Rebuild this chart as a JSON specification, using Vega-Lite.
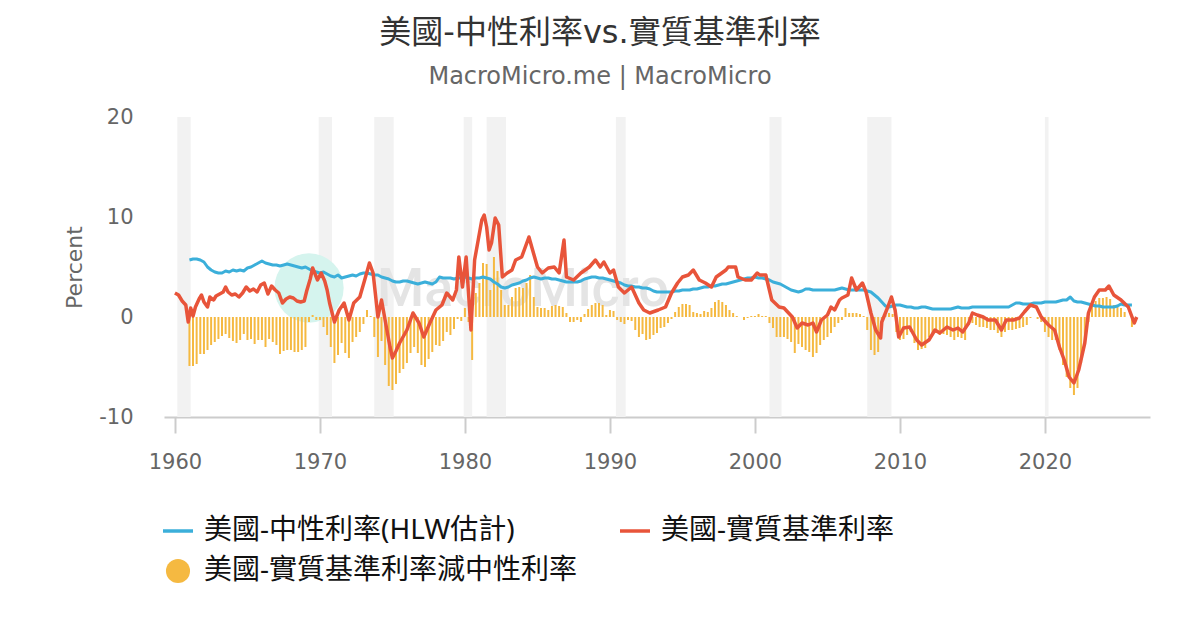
{
  "$schema": "https://vega.github.io/schema/vega-lite/v6.json",
  "width": 986,
  "height": 300,
  "autosize": "none",
  "padding": {"left": 164, "top": 117, "right": 50, "bottom": 213},
  "background": "white",
  "title": {
    "text": "美國-中性利率vs.實質基準利率",
    "subtitle": "MacroMicro.me | MacroMicro",
    "anchor": "middle",
    "dx": -57,
    "offset": 16,
    "font": "DejaVu Sans, Noto Sans CJK TC",
    "fontSize": 32,
    "fontWeight": "normal",
    "color": "#333333",
    "subtitleFont": "DejaVu Sans",
    "subtitleFontSize": 24,
    "subtitleColor": "#666666",
    "subtitlePadding": 15
  },
  "datasets": {
    "rec": [
      {"s": "1960-03", "e": "1961-02"},
      {"s": "1969-12", "e": "1970-11"},
      {"s": "1973-10", "e": "1975-02"},
      {"s": "1979-12", "e": "1980-07"},
      {"s": "1981-07", "e": "1982-11"},
      {"s": "1990-06", "e": "1991-02"},
      {"s": "2001-01", "e": "2001-11"},
      {"s": "2007-10", "e": "2009-06"},
      {"s": "2020-01", "e": "2020-04"}
    ],
    "q": [
      {"d": "1961-01", "n": 5.7, "g": -4.9}, {"d": "1961-04", "n": 5.8, "g": -4.9}, {"d": "1961-07", "n": 5.8, "g": -4.7}, {"d": "1961-10", "n": 5.7, "g": -3.7},
      {"d": "1962-01", "n": 5.5, "g": -3.7}, {"d": "1962-04", "n": 5.0, "g": -3.3}, {"d": "1962-07", "n": 4.7, "g": -2.8}, {"d": "1962-10", "n": 4.5, "g": -2.5},
      {"d": "1963-01", "n": 4.4, "g": -2.2}, {"d": "1963-04", "n": 4.4, "g": -1.9}, {"d": "1963-07", "n": 4.6, "g": -1.7}, {"d": "1963-10", "n": 4.5, "g": -2.1},
      {"d": "1964-01", "n": 4.7, "g": -2.4}, {"d": "1964-04", "n": 4.6, "g": -2.6}, {"d": "1964-07", "n": 4.7, "g": -2.3}, {"d": "1964-10", "n": 4.6, "g": -1.7},
      {"d": "1965-01", "n": 4.9, "g": -2.3}, {"d": "1965-04", "n": 5.0, "g": -2.2}, {"d": "1965-07", "n": 5.2, "g": -2.7}, {"d": "1965-10", "n": 5.4, "g": -2.3},
      {"d": "1966-01", "n": 5.6, "g": -2.3}, {"d": "1966-04", "n": 5.4, "g": -3.0}, {"d": "1966-07", "n": 5.3, "g": -2.2}, {"d": "1966-10", "n": 5.2, "g": -2.5},
      {"d": "1967-01", "n": 5.2, "g": -2.8}, {"d": "1967-04", "n": 5.1, "g": -3.7}, {"d": "1967-07", "n": 5.2, "g": -3.4}, {"d": "1967-10", "n": 5.3, "g": -3.3},
      {"d": "1968-01", "n": 5.2, "g": -3.3}, {"d": "1968-04", "n": 5.1, "g": -3.5}, {"d": "1968-07", "n": 5.0, "g": -3.5}, {"d": "1968-10", "n": 4.9, "g": -3.3},
      {"d": "1969-01", "n": 5.0, "g": -3.0}, {"d": "1969-04", "n": 4.8, "g": -0.5}, {"d": "1969-07", "n": 4.6, "g": 0.2}, {"d": "1969-10", "n": 4.5, "g": -0.3},
      {"d": "1970-01", "n": 4.4, "g": -0.3}, {"d": "1970-04", "n": 4.5, "g": -1.0}, {"d": "1970-07", "n": 4.3, "g": -1.8}, {"d": "1970-10", "n": 4.1, "g": -3.0},
      {"d": "1971-01", "n": 4.0, "g": -4.6}, {"d": "1971-04", "n": 4.2, "g": -3.8}, {"d": "1971-07", "n": 3.9, "g": -2.6}, {"d": "1971-10", "n": 4.0, "g": -3.6},
      {"d": "1972-01", "n": 4.1, "g": -4.1}, {"d": "1972-04", "n": 4.2, "g": -2.5}, {"d": "1972-07", "n": 4.1, "g": -2.0}, {"d": "1972-10", "n": 4.3, "g": -1.5},
      {"d": "1973-01", "n": 4.4, "g": -0.7}, {"d": "1973-04", "n": 4.4, "g": 0.7}, {"d": "1973-07", "n": 4.3, "g": 0.1}, {"d": "1973-10", "n": 4.2, "g": -2.0},
      {"d": "1974-01", "n": 4.2, "g": -4.0}, {"d": "1974-04", "n": 4.0, "g": -2.4}, {"d": "1974-07", "n": 3.9, "g": -4.8}, {"d": "1974-10", "n": 3.8, "g": -6.9},
      {"d": "1975-01", "n": 3.6, "g": -7.3}, {"d": "1975-04", "n": 3.5, "g": -6.7}, {"d": "1975-07", "n": 3.5, "g": -5.6}, {"d": "1975-10", "n": 3.6, "g": -5.2},
      {"d": "1976-01", "n": 3.6, "g": -4.6}, {"d": "1976-04", "n": 3.5, "g": -3.6}, {"d": "1976-07", "n": 3.4, "g": -3.0}, {"d": "1976-10", "n": 3.3, "g": -3.6},
      {"d": "1977-01", "n": 3.4, "g": -4.8}, {"d": "1977-04", "n": 3.5, "g": -5.0}, {"d": "1977-07", "n": 3.4, "g": -4.2}, {"d": "1977-10", "n": 3.3, "g": -3.5},
      {"d": "1978-01", "n": 3.5, "g": -2.8}, {"d": "1978-04", "n": 4.0, "g": -2.9}, {"d": "1978-07", "n": 3.9, "g": -2.4}, {"d": "1978-10", "n": 3.9, "g": -1.5},
      {"d": "1979-01", "n": 3.9, "g": -1.8}, {"d": "1979-04", "n": 3.8, "g": -1.2}, {"d": "1979-07", "n": 3.9, "g": -0.2}, {"d": "1979-10", "n": 3.9, "g": -0.4},
      {"d": "1980-01", "n": 4.0, "g": 0.9}, {"d": "1980-04", "n": 3.9, "g": -0.5}, {"d": "1980-07", "n": 3.8, "g": -4.3}, {"d": "1980-10", "n": 3.9, "g": 2.4},
      {"d": "1981-01", "n": 3.9, "g": 3.4}, {"d": "1981-04", "n": 4.0, "g": 5.4}, {"d": "1981-07", "n": 3.9, "g": 5.3}, {"d": "1981-10", "n": 3.8, "g": 2.7},
      {"d": "1982-01", "n": 3.5, "g": 6.0}, {"d": "1982-04", "n": 3.3, "g": 4.6}, {"d": "1982-07", "n": 3.0, "g": 2.7}, {"d": "1982-10", "n": 2.9, "g": 1.2},
      {"d": "1983-01", "n": 3.0, "g": 1.2}, {"d": "1983-04", "n": 3.2, "g": 2.0}, {"d": "1983-07", "n": 3.3, "g": 2.9}, {"d": "1983-10", "n": 3.4, "g": 3.0},
      {"d": "1984-01", "n": 3.6, "g": 2.9}, {"d": "1984-04", "n": 3.7, "g": 3.4}, {"d": "1984-07", "n": 3.9, "g": 4.2}, {"d": "1984-10", "n": 4.0, "g": 2.0},
      {"d": "1985-01", "n": 3.9, "g": 1.0}, {"d": "1985-04", "n": 3.8, "g": 0.9}, {"d": "1985-07", "n": 3.9, "g": 0.9}, {"d": "1985-10", "n": 3.9, "g": 0.7},
      {"d": "1986-01", "n": 3.8, "g": 1.1}, {"d": "1986-04", "n": 3.8, "g": 1.2}, {"d": "1986-07", "n": 3.7, "g": 1.1}, {"d": "1986-10", "n": 3.6, "g": 1.0},
      {"d": "1987-01", "n": 3.5, "g": 0.4}, {"d": "1987-04", "n": 3.5, "g": -0.5}, {"d": "1987-07", "n": 3.5, "g": -0.5}, {"d": "1987-10", "n": 3.5, "g": -0.3},
      {"d": "1988-01", "n": 3.6, "g": -0.5}, {"d": "1988-04", "n": 3.8, "g": 0.3}, {"d": "1988-07", "n": 3.9, "g": 0.8}, {"d": "1988-10", "n": 4.0, "g": 1.2},
      {"d": "1989-01", "n": 4.0, "g": 1.4}, {"d": "1989-04", "n": 3.9, "g": 1.4}, {"d": "1989-07", "n": 3.9, "g": 1.2}, {"d": "1989-10", "n": 3.8, "g": 0.2},
      {"d": "1990-01", "n": 3.7, "g": 0.7}, {"d": "1990-04", "n": 3.6, "g": 0.6}, {"d": "1990-07", "n": 3.5, "g": -0.3}, {"d": "1990-10", "n": 3.4, "g": -0.5},
      {"d": "1991-01", "n": 3.2, "g": -0.7}, {"d": "1991-04", "n": 3.1, "g": -0.3}, {"d": "1991-07", "n": 3.1, "g": -0.4}, {"d": "1991-10", "n": 3.0, "g": -1.3},
      {"d": "1992-01", "n": 3.0, "g": -2.0}, {"d": "1992-04", "n": 2.9, "g": -1.7}, {"d": "1992-07", "n": 2.9, "g": -2.3}, {"d": "1992-10", "n": 2.8, "g": -2.2},
      {"d": "1993-01", "n": 2.6, "g": -1.8}, {"d": "1993-04", "n": 2.5, "g": -1.6}, {"d": "1993-07", "n": 2.5, "g": -1.1}, {"d": "1993-10", "n": 2.5, "g": -1.0},
      {"d": "1994-01", "n": 2.5, "g": -0.6}, {"d": "1994-04", "n": 2.5, "g": -0.2}, {"d": "1994-07", "n": 2.6, "g": 0.5}, {"d": "1994-10", "n": 2.6, "g": 1.0},
      {"d": "1995-01", "n": 2.7, "g": 1.3}, {"d": "1995-04", "n": 2.7, "g": 1.3}, {"d": "1995-07", "n": 2.7, "g": 1.2}, {"d": "1995-10", "n": 2.8, "g": 0.5},
      {"d": "1996-01", "n": 2.8, "g": 0.4}, {"d": "1996-04", "n": 2.9, "g": 0.3}, {"d": "1996-07", "n": 3.0, "g": 0.6}, {"d": "1996-10", "n": 3.0, "g": 0.5},
      {"d": "1997-01", "n": 3.1, "g": 0.9}, {"d": "1997-04", "n": 3.1, "g": 1.5}, {"d": "1997-07", "n": 3.2, "g": 1.7}, {"d": "1997-10", "n": 3.3, "g": 1.5},
      {"d": "1998-01", "n": 3.3, "g": 1.2}, {"d": "1998-04", "n": 3.4, "g": 0.7}, {"d": "1998-07", "n": 3.5, "g": 0.4}, {"d": "1998-10", "n": 3.6, "g": 0.1},
      {"d": "1999-01", "n": 3.7, "g": 0.0}, {"d": "1999-04", "n": 3.8, "g": -0.3}, {"d": "1999-07", "n": 3.9, "g": -0.1}, {"d": "1999-10", "n": 3.9, "g": 0.1},
      {"d": "2000-01", "n": 4.0, "g": 0.1}, {"d": "2000-04", "n": 3.9, "g": 0.3}, {"d": "2000-07", "n": 3.9, "g": 0.1}, {"d": "2000-10", "n": 3.8, "g": 0.1},
      {"d": "2001-01", "n": 3.7, "g": -0.6}, {"d": "2001-04", "n": 3.5, "g": -1.1}, {"d": "2001-07", "n": 3.4, "g": -2.0}, {"d": "2001-10", "n": 3.3, "g": -2.0},
      {"d": "2002-01", "n": 3.1, "g": -2.0}, {"d": "2002-04", "n": 2.9, "g": -2.2}, {"d": "2002-07", "n": 2.7, "g": -2.5}, {"d": "2002-10", "n": 2.6, "g": -3.6},
      {"d": "2003-01", "n": 2.5, "g": -2.7}, {"d": "2003-04", "n": 2.6, "g": -3.0}, {"d": "2003-07", "n": 2.8, "g": -3.3}, {"d": "2003-10", "n": 2.8, "g": -3.5},
      {"d": "2004-01", "n": 2.7, "g": -4.0}, {"d": "2004-04", "n": 2.7, "g": -3.6}, {"d": "2004-07", "n": 2.7, "g": -2.8}, {"d": "2004-10", "n": 2.7, "g": -2.3},
      {"d": "2005-01", "n": 2.7, "g": -2.0}, {"d": "2005-04", "n": 2.7, "g": -1.6}, {"d": "2005-07", "n": 2.7, "g": -1.0}, {"d": "2005-10", "n": 2.8, "g": -0.6},
      {"d": "2006-01", "n": 2.9, "g": -0.3}, {"d": "2006-04", "n": 2.8, "g": 0.9}, {"d": "2006-07", "n": 2.7, "g": 0.4}, {"d": "2006-10", "n": 2.7, "g": 0.4},
      {"d": "2007-01", "n": 2.7, "g": 0.4}, {"d": "2007-04", "n": 2.7, "g": 0.3}, {"d": "2007-07", "n": 2.7, "g": 0.1}, {"d": "2007-10", "n": 2.6, "g": -1.3},
      {"d": "2008-01", "n": 2.5, "g": -3.3}, {"d": "2008-04", "n": 2.2, "g": -3.8}, {"d": "2008-07", "n": 1.9, "g": -3.5}, {"d": "2008-10", "n": 1.5, "g": -1.0},
      {"d": "2009-01", "n": 1.1, "g": 0.2}, {"d": "2009-04", "n": 1.0, "g": 0.4}, {"d": "2009-07", "n": 1.1, "g": 0.3}, {"d": "2009-10", "n": 1.2, "g": -1.5},
      {"d": "2010-01", "n": 1.2, "g": -2.3}, {"d": "2010-04", "n": 1.1, "g": -2.2}, {"d": "2010-07", "n": 1.0, "g": -1.8}, {"d": "2010-10", "n": 1.0, "g": -1.5},
      {"d": "2011-01", "n": 0.9, "g": -2.6}, {"d": "2011-04", "n": 0.9, "g": -3.3}, {"d": "2011-07", "n": 1.0, "g": -3.2}, {"d": "2011-10", "n": 1.0, "g": -3.1},
      {"d": "2012-01", "n": 0.9, "g": -2.0}, {"d": "2012-04", "n": 0.8, "g": -1.7}, {"d": "2012-07", "n": 0.8, "g": -1.6}, {"d": "2012-10", "n": 0.8, "g": -1.8},
      {"d": "2013-01", "n": 0.8, "g": -1.7}, {"d": "2013-04", "n": 0.8, "g": -1.8}, {"d": "2013-07", "n": 0.8, "g": -2.0}, {"d": "2013-10", "n": 0.9, "g": -2.3},
      {"d": "2014-01", "n": 1.0, "g": -2.0}, {"d": "2014-04", "n": 0.9, "g": -2.1}, {"d": "2014-07", "n": 0.9, "g": -2.3}, {"d": "2014-10", "n": 0.9, "g": -0.8},
      {"d": "2015-01", "n": 1.0, "g": -0.6}, {"d": "2015-04", "n": 1.0, "g": -0.8}, {"d": "2015-07", "n": 1.0, "g": -1.0}, {"d": "2015-10", "n": 1.0, "g": -1.0},
      {"d": "2016-01", "n": 1.0, "g": -1.1}, {"d": "2016-04", "n": 1.0, "g": -1.3}, {"d": "2016-07", "n": 1.0, "g": -1.3}, {"d": "2016-10", "n": 1.0, "g": -1.6},
      {"d": "2017-01", "n": 1.0, "g": -2.0}, {"d": "2017-04", "n": 1.0, "g": -1.5}, {"d": "2017-07", "n": 1.0, "g": -1.3}, {"d": "2017-10", "n": 1.2, "g": -1.3},
      {"d": "2018-01", "n": 1.4, "g": -1.2}, {"d": "2018-04", "n": 1.4, "g": -1.1}, {"d": "2018-07", "n": 1.3, "g": -1.0}, {"d": "2018-10", "n": 1.3, "g": -0.8},
      {"d": "2019-01", "n": 1.3, "g": -0.1}, {"d": "2019-04", "n": 1.4, "g": 0.0}, {"d": "2019-07", "n": 1.4, "g": -0.2}, {"d": "2019-10", "n": 1.4, "g": -0.5},
      {"d": "2020-01", "n": 1.5, "g": -1.5}, {"d": "2020-04", "n": 1.5, "g": -2.0}, {"d": "2020-07", "n": 1.5, "g": -2.3}, {"d": "2020-10", "n": 1.5, "g": -2.3},
      {"d": "2021-01", "n": 1.6, "g": -3.3}, {"d": "2021-04", "n": 1.7, "g": -4.8}, {"d": "2021-07", "n": 1.7, "g": -6.0}, {"d": "2021-10", "n": 2.0, "g": -7.1},
      {"d": "2022-01", "n": 1.6, "g": -7.8}, {"d": "2022-04", "n": 1.5, "g": -7.1}, {"d": "2022-07", "n": 1.5, "g": -4.6}, {"d": "2022-10", "n": 1.4, "g": -2.6},
      {"d": "2023-01", "n": 1.3, "g": -0.5}, {"d": "2023-04", "n": 1.2, "g": 1.2}, {"d": "2023-07", "n": 1.1, "g": 1.6}, {"d": "2023-10", "n": 1.1, "g": 1.9},
      {"d": "2024-01", "n": 1.0, "g": 1.9}, {"d": "2024-04", "n": 1.0, "g": 2.0}, {"d": "2024-07", "n": 1.0, "g": 1.8}, {"d": "2024-10", "n": 1.0, "g": 1.2},
      {"d": "2025-01", "n": 1.1, "g": 1.0}, {"d": "2025-04", "n": 1.3, "g": 0.9}, {"d": "2025-07", "n": 1.2, "g": 0.5}, {"d": "2025-10", "n": 1.2, "g": 0.0},
      {"d": "2026-01", "n": 1.2, "g": -1.0}
    ],
    "real": [
      {"d": "1960-01", "r": 2.4}, {"d": "1960-04", "r": 2.2}, {"d": "1960-07", "r": 1.6}, {"d": "1960-10", "r": 1.2}, {"d": "1960-12", "r": -0.5},
      {"d": "1961-02", "r": 0.9}, {"d": "1961-04", "r": 0.1}, {"d": "1961-06", "r": 1.0}, {"d": "1961-09", "r": 1.8}, {"d": "1961-11", "r": 2.2},
      {"d": "1962-01", "r": 1.5}, {"d": "1962-04", "r": 1.0}, {"d": "1962-06", "r": 2.0}, {"d": "1962-09", "r": 1.7}, {"d": "1962-11", "r": 2.1},
      {"d": "1963-02", "r": 2.3}, {"d": "1963-05", "r": 2.5}, {"d": "1963-07", "r": 3.0}, {"d": "1963-09", "r": 2.5}, {"d": "1963-12", "r": 2.2},
      {"d": "1964-03", "r": 2.3}, {"d": "1964-06", "r": 2.0}, {"d": "1964-09", "r": 2.4}, {"d": "1964-12", "r": 3.0},
      {"d": "1965-03", "r": 2.6}, {"d": "1965-06", "r": 2.8}, {"d": "1965-09", "r": 2.5}, {"d": "1965-12", "r": 3.2},
      {"d": "1966-03", "r": 3.4}, {"d": "1966-06", "r": 2.3}, {"d": "1966-09", "r": 3.1}, {"d": "1966-12", "r": 2.7},
      {"d": "1967-03", "r": 2.4}, {"d": "1967-06", "r": 1.4}, {"d": "1967-09", "r": 1.8}, {"d": "1967-12", "r": 2.0},
      {"d": "1968-03", "r": 1.9}, {"d": "1968-06", "r": 1.6}, {"d": "1968-09", "r": 1.5}, {"d": "1968-12", "r": 1.6},
      {"d": "1969-02", "r": 2.6}, {"d": "1969-05", "r": 3.8}, {"d": "1969-07", "r": 4.9}, {"d": "1969-09", "r": 4.3}, {"d": "1969-11", "r": 3.7},
      {"d": "1970-02", "r": 4.4}, {"d": "1970-05", "r": 3.6}, {"d": "1970-07", "r": 2.7}, {"d": "1970-09", "r": 1.4},
      {"d": "1971-01", "r": -0.5}, {"d": "1971-05", "r": 0.7}, {"d": "1971-09", "r": 1.4},
      {"d": "1972-01", "r": -0.3}, {"d": "1972-05", "r": 1.4}, {"d": "1972-10", "r": 2.0},
      {"d": "1973-02", "r": 3.7}, {"d": "1973-06", "r": 5.4}, {"d": "1973-09", "r": 4.4},
      {"d": "1974-01", "r": 0.0}, {"d": "1974-04", "r": 1.7}, {"d": "1974-08", "r": -1.0}, {"d": "1974-11", "r": -3.0},
      {"d": "1975-01", "r": -4.1}, {"d": "1975-04", "r": -3.4}, {"d": "1975-07", "r": -2.6},
      {"d": "1976-01", "r": -1.3}, {"d": "1976-06", "r": 0.4}, {"d": "1976-11", "r": -0.6},
      {"d": "1977-03", "r": -2.0}, {"d": "1977-08", "r": -0.6},
      {"d": "1978-01", "r": 0.7}, {"d": "1978-06", "r": 1.2}, {"d": "1978-10", "r": 2.4},
      {"d": "1979-03", "r": 1.7}, {"d": "1979-06", "r": 2.7}, {"d": "1979-08", "r": 6.0}, {"d": "1979-11", "r": 3.0},
      {"d": "1980-02", "r": 6.0}, {"d": "1980-06", "r": -1.3}, {"d": "1980-09", "r": 5.7}, {"d": "1980-12", "r": 7.7},
      {"d": "1981-03", "r": 9.7}, {"d": "1981-05", "r": 10.2}, {"d": "1981-07", "r": 9.0}, {"d": "1981-09", "r": 6.7}, {"d": "1981-11", "r": 7.4},
      {"d": "1982-02", "r": 9.9}, {"d": "1982-05", "r": 9.2}, {"d": "1982-08", "r": 4.0}, {"d": "1982-12", "r": 4.4},
      {"d": "1983-04", "r": 4.7}, {"d": "1983-07", "r": 5.7}, {"d": "1983-12", "r": 6.0},
      {"d": "1984-06", "r": 8.0}, {"d": "1984-09", "r": 6.7},
      {"d": "1985-01", "r": 5.0}, {"d": "1985-05", "r": 4.4}, {"d": "1985-10", "r": 4.9},
      {"d": "1986-03", "r": 5.0}, {"d": "1986-07", "r": 4.4}, {"d": "1986-11", "r": 7.7},
      {"d": "1987-01", "r": 4.0}, {"d": "1987-07", "r": 3.7},
      {"d": "1988-01", "r": 4.4}, {"d": "1988-08", "r": 5.0},
      {"d": "1989-01", "r": 5.7}, {"d": "1989-05", "r": 5.0}, {"d": "1989-08", "r": 5.5},
      {"d": "1990-01", "r": 4.4}, {"d": "1990-04", "r": 4.7}, {"d": "1990-08", "r": 3.0},
      {"d": "1991-01", "r": 2.4}, {"d": "1991-07", "r": 3.0},
      {"d": "1992-01", "r": 1.4}, {"d": "1992-05", "r": 0.7}, {"d": "1992-10", "r": 0.4},
      {"d": "1993-05", "r": 0.7}, {"d": "1993-11", "r": 1.0},
      {"d": "1994-04", "r": 2.4}, {"d": "1994-09", "r": 3.4},
      {"d": "1995-01", "r": 4.0}, {"d": "1995-06", "r": 4.2}, {"d": "1995-10", "r": 4.7},
      {"d": "1996-03", "r": 3.7}, {"d": "1996-08", "r": 3.4},
      {"d": "1997-01", "r": 3.0}, {"d": "1997-05", "r": 4.0},
      {"d": "1998-01", "r": 4.7}, {"d": "1998-03", "r": 5.0}, {"d": "1998-09", "r": 5.0}, {"d": "1998-11", "r": 4.0},
      {"d": "1999-05", "r": 3.7}, {"d": "1999-10", "r": 3.7},
      {"d": "2000-03", "r": 4.4}, {"d": "2000-05", "r": 4.2}, {"d": "2000-10", "r": 4.2},
      {"d": "2001-03", "r": 1.7}, {"d": "2001-09", "r": 1.0},
      {"d": "2002-01", "r": 0.9}, {"d": "2002-08", "r": 0.0}, {"d": "2002-12", "r": -1.1},
      {"d": "2003-04", "r": -0.6}, {"d": "2003-09", "r": -0.8},
      {"d": "2004-01", "r": -0.6}, {"d": "2004-04", "r": -1.5}, {"d": "2004-08", "r": -0.3},
      {"d": "2005-01", "r": 0.2}, {"d": "2005-04", "r": 1.0}, {"d": "2005-07", "r": 0.7}, {"d": "2005-11", "r": 1.7},
      {"d": "2006-01", "r": 1.9}, {"d": "2006-06", "r": 2.2}, {"d": "2006-09", "r": 3.9},
      {"d": "2007-01", "r": 2.7}, {"d": "2007-06", "r": 3.4}, {"d": "2007-09", "r": 2.5},
      {"d": "2008-01", "r": 0.4}, {"d": "2008-05", "r": -1.3}, {"d": "2008-09", "r": -2.1}, {"d": "2008-10", "r": -0.5},
      {"d": "2009-03", "r": 1.0}, {"d": "2009-06", "r": 2.0}, {"d": "2009-09", "r": 0.7}, {"d": "2009-12", "r": -2.0},
      {"d": "2010-04", "r": -1.1}, {"d": "2010-09", "r": -1.0},
      {"d": "2011-03", "r": -2.3}, {"d": "2011-07", "r": -2.8},
      {"d": "2012-01", "r": -2.3}, {"d": "2012-06", "r": -1.3}, {"d": "2012-10", "r": -1.6},
      {"d": "2013-04", "r": -1.0}, {"d": "2013-09", "r": -1.3},
      {"d": "2014-01", "r": -1.1}, {"d": "2014-05", "r": -1.5}, {"d": "2014-10", "r": -0.6},
      {"d": "2015-01", "r": 0.4}, {"d": "2015-05", "r": 0.2}, {"d": "2015-10", "r": 0.0},
      {"d": "2016-02", "r": -0.3}, {"d": "2016-08", "r": -0.3},
      {"d": "2017-01", "r": -1.3}, {"d": "2017-05", "r": -0.3}, {"d": "2017-11", "r": -0.3},
      {"d": "2018-04", "r": -0.1}, {"d": "2018-08", "r": 0.5},
      {"d": "2019-01", "r": 1.2}, {"d": "2019-06", "r": 1.0}, {"d": "2019-10", "r": 0.0},
      {"d": "2020-04", "r": -0.8}, {"d": "2020-09", "r": -1.3},
      {"d": "2021-01", "r": -3.0}, {"d": "2021-05", "r": -4.3}, {"d": "2021-09", "r": -6.0},
      {"d": "2022-01", "r": -6.6}, {"d": "2022-05", "r": -5.3}, {"d": "2022-10", "r": -2.6},
      {"d": "2023-01", "r": 0.4}, {"d": "2023-06", "r": 2.0}, {"d": "2023-10", "r": 2.7},
      {"d": "2024-03", "r": 2.7}, {"d": "2024-06", "r": 3.1}, {"d": "2024-10", "r": 2.2},
      {"d": "2025-04", "r": 1.7}, {"d": "2025-10", "r": 1.0},
      {"d": "2026-03", "r": -0.6}, {"d": "2026-05", "r": 0.0}
    ]
  },
  "layer": [
    {
      "data": {"name": "rec"},
      "mark": {"type": "rect", "color": "#f2f2f2"},
      "encoding": {
        "x": {
          "field": "s", "type": "temporal", "title": null,
          "scale": {"domain": [{"year": 1959, "month": 4, "date": 1}, {"year": 2027, "month": 4, "date": 1}], "padding": 0},
          "axis": {
            "values": [{"year": 1960}, {"year": 1970}, {"year": 1980}, {"year": 1990}, {"year": 2000}, {"year": 2010}, {"year": 2020}],
            "format": "%Y", "grid": false,
            "domainColor": "#cccccc", "domainWidth": 2,
            "tickColor": "#cccccc", "tickWidth": 2, "tickSize": 16,
            "labelFont": "DejaVu Sans", "labelFontSize": 21, "labelColor": "#666666", "labelPadding": 18
          }
        },
        "x2": {"field": "e"},
        "y": {
          "datum": 20, "type": "quantitative", "title": "Percent",
          "scale": {"domain": [-10, 20], "nice": false, "padding": 0},
          "axis": {
            "values": [-10, 0, 10, 20], "labelExpr": "'' + datum.value", "domain": false, "ticks": false,
            "gridColor": "#e6e6e6", "gridWidth": 2,
            "labelFont": "DejaVu Sans", "labelFontSize": 21, "labelColor": "#666666", "labelPadding": 31,
            "titleFont": "DejaVu Sans", "titleFontSize": 22, "titleColor": "#666666", "titleFontWeight": "normal", "titlePadding": 12
          }
        },
        "y2": {"datum": -10}
      }
    },
    {
      "data": {"values": [{}]},
      "mark": {"type": "point", "filled": true, "color": "#d5f4ee", "opacity": 1, "size": 4800},
      "encoding": {
        "x": {"datum": {"year": 1969, "month": 4}, "type": "temporal", "title": null},
        "y": {"datum": 2.9, "type": "quantitative", "title": "Percent"}
      }
    },
    {
      "data": {"values": [{}]},
      "mark": {"type": "text", "text": "MacroMicro", "font": "Roboto", "fontSize": 54, "fontWeight": 500, "color": "#e4e4e4", "align": "center", "baseline": "middle"},
      "encoding": {
        "x": {"datum": {"year": 1984, "month": 1}, "type": "temporal", "title": null},
        "y": {"datum": 2.75, "type": "quantitative", "title": "Percent"}
      }
    },
    {
      "data": {"name": "q"},
      "mark": {"type": "bar", "width": 2},
      "encoding": {
        "x": {"field": "d", "type": "temporal", "title": null},
        "y": {"field": "g", "type": "quantitative", "title": "Percent"},
        "color": {
          "datum": "美國-實質基準利率減中性利率",
          "scale": {
            "domain": ["美國-中性利率(HLW估計)", "美國-實質基準利率減中性利率", "美國-實質基準利率"],
            "range": ["#3bafda", "#f5b941", "#e8543a"]
          },
          "legend": {
            "title": null, "orient": "none", "legendX": 0, "legendY": 400,
            "columns": 2, "columnPadding": 35, "rowPadding": 12,
            "symbolSize": 900, "labelOffset": 12, "labelLimit": 600,
            "labelFont": "Noto Sans, Noto Sans CJK TC", "labelFontSize": 28, "labelColor": "#111111",
            "encode": {
              "symbols": {
                "update": {
                  "shape": {"signal": "datum.value === '美國-實質基準利率減中性利率' ? 'circle' : 'stroke'"},
                  "size": {"signal": "datum.value === '美國-實質基準利率減中性利率' ? 580 : 900"},
                  "strokeWidth": {"signal": "datum.value === '美國-實質基準利率減中性利率' ? 0 : 3.5"},
                  "fill": {"signal": "datum.value === '美國-實質基準利率減中性利率' ? '#f5b941' : 'transparent'"},
                  "stroke": {"signal": "datum.value === '美國-中性利率(HLW估計)' ? '#3bafda' : '#e8543a'"},
                  "opacity": {"value": 1}
                }
              }
            }
          }
        }
      }
    },
    {
      "data": {"name": "q"},
      "mark": {"type": "line", "strokeWidth": 3, "strokeJoin": "round"},
      "encoding": {
        "x": {"field": "d", "type": "temporal", "title": null},
        "y": {"field": "n", "type": "quantitative", "title": "Percent"},
        "color": {"datum": "美國-中性利率(HLW估計)"}
      }
    },
    {
      "data": {"name": "real"},
      "mark": {"type": "line", "strokeWidth": 3.5, "strokeJoin": "round"},
      "encoding": {
        "x": {"field": "d", "type": "temporal", "title": null},
        "y": {"field": "r", "type": "quantitative", "title": "Percent"},
        "color": {"datum": "美國-實質基準利率"}
      }
    }
  ],
  "config": {
    "view": {"stroke": null}
  }
}
